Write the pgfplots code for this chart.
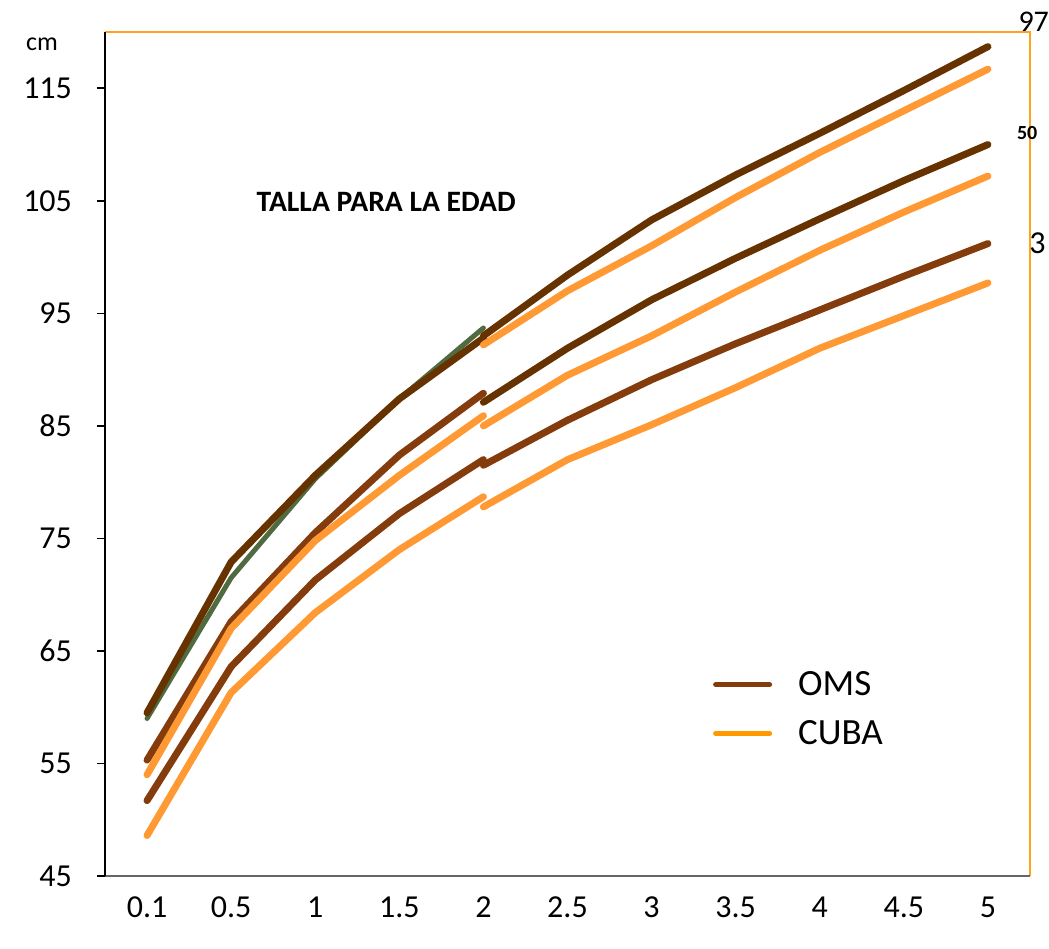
\documentclass[border=0pt]{standalone}
\usepackage{fontspec}
\setmainfont{Carlito}
\usepackage{pgfplots}
\pgfplotsset{compat=1.18}

\definecolor{omsdark}{HTML}{663300}
\definecolor{omsmid}{HTML}{843C0C}
\definecolor{cuba}{HTML}{FF9933}
\definecolor{cubaleg}{HTML}{FF9900}
\definecolor{olive}{HTML}{4F6B3F}
\definecolor{frameor}{HTML}{FFA31A}

\begin{document}
\begin{tikzpicture}
\useasboundingbox (-52.5pt,-36pt) rectangle (472pt,438pt);
\begin{axis}[
    at={(0,0)}, anchor=south west,
    scale only axis,
    width=462.5pt, height=422pt,
    xmin=-0.5, xmax=10.5,
    ymin=45, ymax=120,
    xtick={0,...,10},
    xticklabels={0.1,0.5,1,1.5,2,2.5,3,3.5,4,4.5,5},
    ytick={45,55,...,115},
    major x tick style={draw=none},
    ytick style={black, line width=0.8pt},
    tick align=outside,
    major tick length=4pt,
    ytick pos=left,
    xtick pos=bottom,
    axis line style={draw=none},
    /pgf/number format/assume math mode=true,
    yticklabel style={font=\fontsize{16}{16}\selectfont, xshift=-9pt},
    xticklabel style={font=\fontsize{16}{16}\selectfont, yshift=-3pt},
    clip=false,
    every axis plot/.append style={line cap=round, line join=round, line width=3.5pt, forget plot},
    legend style={at={(0.657,0.248)}, anchor=north west, draw=none, fill=none,
        font=\fontsize{18.5}{18.5}\selectfont, row sep=7pt, column sep=11pt, inner sep=0pt},
    legend cell align=left,
    legend image code/.code={\draw[#1] (0pt,0pt) -- (27pt,0pt);},
]
% frame: orange top/right, black left, gray bottom
\draw[frameor, line width=0.9pt] (rel axis cs:0,1) -- (rel axis cs:1,1) -- (rel axis cs:1,0);
\draw[black!60, line width=1pt] (rel axis cs:0,0) -- (rel axis cs:1,0);
\draw[black, line width=1pt] (rel axis cs:0,0) -- (rel axis cs:0,1);

% green line under OMS 97 (0.1-2)
\addplot[olive, line width=2.5pt] coordinates {(0,59.0) (1,71.5) (2,80.3) (3,87.4) (4,93.7)};
% OMS 97
\addplot[omsdark] coordinates {(0,59.5) (1,72.9) (2,80.6) (3,87.4) (4,92.8)};
\addplot[omsdark] coordinates {(4,93.0) (5,98.4) (6,103.3) (7,107.3) (8,111.0) (9,114.8) (10,118.7)};
% CUBA 97
\addplot[cuba] coordinates {(4,92.2) (5,97.0) (6,101.0) (7,105.3) (8,109.3) (9,113.0) (10,116.7)};
% OMS 50
\addplot[omsmid] coordinates {(0,55.3) (1,67.6) (2,75.5) (3,82.4) (4,87.9)};
\addplot[omsdark] coordinates {(4,87.1) (5,91.9) (6,96.2) (7,99.9) (8,103.4) (9,106.8) (10,110.0)};
% CUBA 50
\addplot[cuba] coordinates {(0,54.0) (1,67.0) (2,74.8) (3,80.6) (4,85.9)};
\addplot[cuba] coordinates {(4,85.0) (5,89.5) (6,93.0) (7,96.9) (8,100.6) (9,104.0) (10,107.2)};
% OMS 3
\addplot[omsmid] coordinates {(0,51.7) (1,63.6) (2,71.3) (3,77.2) (4,82.0)};
\addplot[omsmid] coordinates {(4,81.5) (5,85.5) (6,89.1) (7,92.3) (8,95.3) (9,98.3) (10,101.2)};
% CUBA 3
\addplot[cuba] coordinates {(0,48.6) (1,61.3) (2,68.4) (3,74.0) (4,78.7)};
\addplot[cuba] coordinates {(4,77.8) (5,82.0) (6,85.1) (7,88.4) (8,91.9) (9,94.8) (10,97.7)};

\addlegendimage{omsmid, line width=2.5pt}
\addlegendentry{OMS}
\addlegendimage{cubaleg, line width=2.5pt}
\addlegendentry{CUBA}

\node[font=\fontsize{13}{13}\selectfont] at (rel axis cs:-0.068,0.985) {cm};
\node[font=\bfseries\fontsize{14.8}{14.8}\selectfont] at (rel axis cs:0.304,0.799) {TALLA PARA LA EDAD};
\node[font=\fontsize{15}{15}\selectfont] at (rel axis cs:1.004,1.012) {97};
\node[font=\bfseries\fontsize{10}{10}\selectfont] at (rel axis cs:0.997,0.880) {50};
\node[font=\fontsize{16}{16}\selectfont] at (rel axis cs:1.008,0.750) {3};
\end{axis}
\end{tikzpicture}
\end{document}
